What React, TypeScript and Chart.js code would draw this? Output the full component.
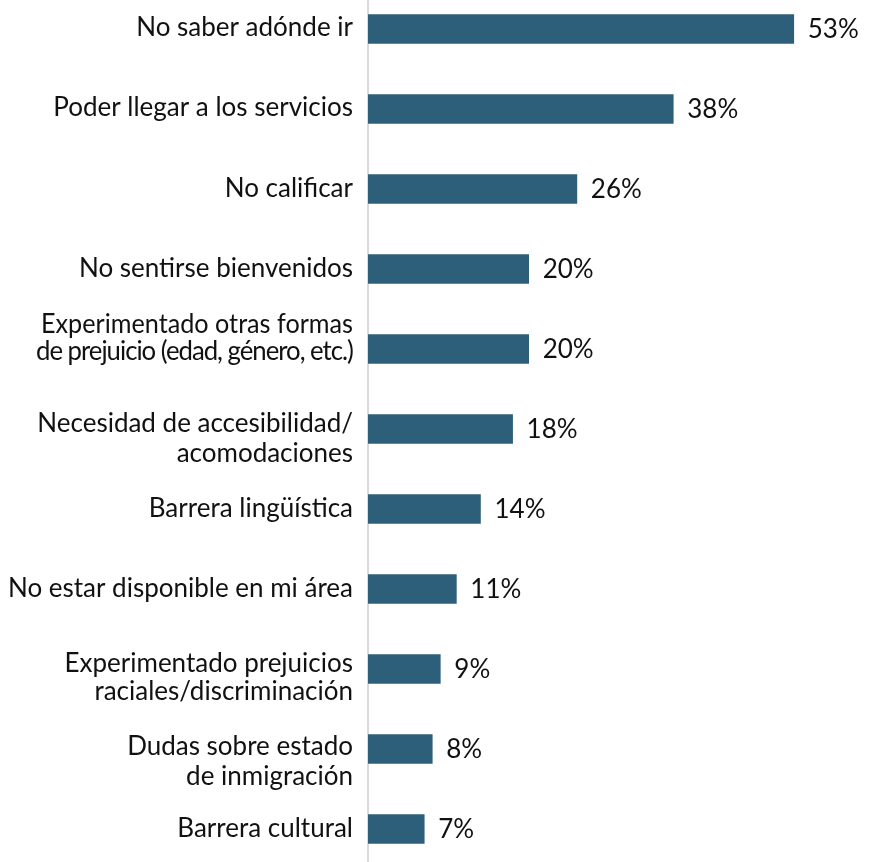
import React, { useEffect, useRef } from "react";
import { Chart, registerables } from "chart.js";

Chart.register(...registerables);

const categories: string[][] = [
  ["No saber adónde ir"],
  ["Poder llegar a los servicios"],
  ["No calificar"],
  ["No sentirse bienvenidos"],
  ["Experimentado otras formas", "de prejuicio (edad, género, etc.)"],
  ["Necesidad de accesibilidad/", "acomodaciones"],
  ["Barrera lingüística"],
  ["No estar disponible en mi área"],
  ["Experimentado prejuicios", "raciales/discriminación"],
  ["Dudas sobre estado", "de inmigración"],
  ["Barrera cultural"],
];

const values: number[] = [53, 38, 26, 20, 20, 18, 14, 11, 9, 8, 7];
const valueLabels: string[] = values.map((v) => `${v}%`);

// vertical offsets (px) of each label line relative to the bar centre
const LINE_OFFSETS: number[][] = [
  [-1],
  [-1],
  [0],
  [0],
  [-24, 3],
  [-5, 25],
  [0],
  [0],
  [-5, 23],
  [-2, 28],
  [0],
];

const FONT = "Lato, 'Open Sans', sans-serif";

const valueLabelPlugin = {
  id: "valueLabels",
  afterDatasetsDraw(chart: any) {
    const ctx = chart.ctx;
    const meta = chart.getDatasetMeta(0);
    ctx.save();
    ctx.font = `26px ${FONT}`;
    ctx.fillStyle = "#111111";
    ctx.textAlign = "left";
    ctx.textBaseline = "middle";
    meta.data.forEach((bar: any, i: number) => {
      ctx.fillText(valueLabels[i], bar.x + 14, bar.y + 1);
    });
    ctx.restore();
  },
};

const categoryLabelPlugin = {
  id: "categoryLabels",
  afterDraw(chart: any) {
    const ctx = chart.ctx;
    const yScale = chart.scales.y;
    const right = chart.chartArea.left - 15;
    ctx.save();
    ctx.font = `26px ${FONT}`;
    ctx.fillStyle = "#111111";
    ctx.textAlign = "right";
    ctx.textBaseline = "middle";
    categories.forEach((lines, i) => {
      const cy = yScale.getPixelForTick(i);
      lines.forEach((line, j) => {
        const y = cy + LINE_OFFSETS[i][j];
        if (i === 4 && j === 1) {
          ctx.save();
          (ctx as any).letterSpacing = "-1px";
          ctx.fillText(line, right, y, 317);
          ctx.restore();
        } else if (i === 4) {
          ctx.fillText(line, right, y, 312);
        } else {
          ctx.fillText(line, right, y);
        }
      });
    });
    ctx.restore();
  },
};

export default function App() {
  const ref = useRef<HTMLCanvasElement>(null);
  useEffect(() => {
    document.body.style.margin = "0";
    const chart = new Chart(ref.current!, {
      type: "bar",
      data: {
        labels: categories.map((c) => c.join(" ")),
        datasets: [
          {
            data: values,
            backgroundColor: "#2E5F7A",
            borderWidth: 0,
            barThickness: 29,
          },
        ],
      },
      options: {
        indexAxis: "y",
        animation: false,
        responsive: false,
        maintainAspectRatio: false,
        layout: { padding: { left: 0, right: 33, top: 0, bottom: 0 } },
        plugins: {
          legend: { display: false },
          tooltip: { enabled: false },
        },
        scales: {
          x: {
            min: 0,
            max: 60,
            display: false,
            grid: { display: false },
          },
          y: {
            grid: { display: false, drawTicks: false },
            border: { display: true, color: "#d9d9d9", width: 2 },
            ticks: { display: false, autoSkip: false },
            afterFit(scale: any) {
              scale.width = 368;
              scale.paddingTop = 0;
              scale.paddingBottom = 0;
            },
          },
        },
      },
      plugins: [valueLabelPlugin, categoryLabelPlugin],
    });
    return () => chart.destroy();
  }, []);
  return (
    <div style={{ position: "relative", width: 883, height: 862, overflow: "hidden", background: "#fff" }}>
      <canvas
        ref={ref}
        width={883}
        height={880}
        style={{ position: "absolute", left: 0, top: -11, width: 883, height: 880 }}
      />
    </div>
  );
}
